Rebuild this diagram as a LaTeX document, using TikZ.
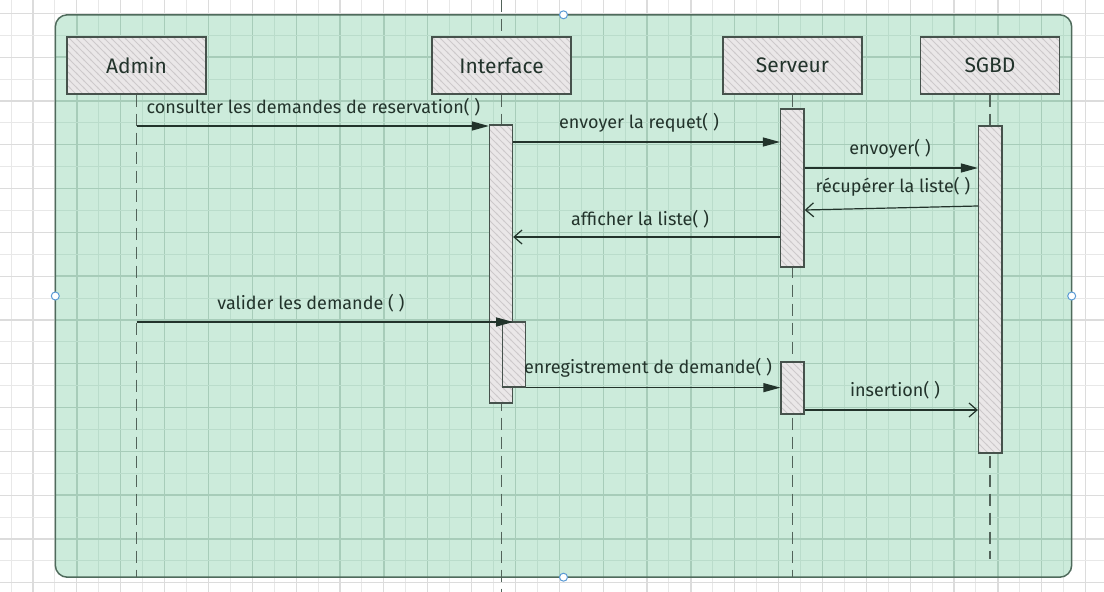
\documentclass[tikz,border=0pt]{standalone}
\usepackage{fontspec}
\newfontfamily\lab{Fira Sans}
\usetikzlibrary{arrows.meta,patterns.meta}

\definecolor{gridout}{HTML}{E8E8E8}
\definecolor{gridoutdark}{HTML}{DCDCDC}
\definecolor{frameFill}{HTML}{CCEBDB}
\definecolor{gridin}{HTML}{BADCCB}
\definecolor{gridindark}{HTML}{A7CCB9}
\definecolor{frameLine}{HTML}{4F6B5C}
\definecolor{ink}{HTML}{22332B}
\definecolor{boxLine}{HTML}{46524C}
\definecolor{lifeCol}{HTML}{52635A}
\definecolor{boxFill}{HTML}{EAE7E8}
\definecolor{hatchCol}{HTML}{CDC9CB}
\definecolor{handleCol}{HTML}{5B9BD5}

% diagonal hatching used inside participant and activation boxes
\tikzdeclarepattern{
  name=diaghatch,
  type=uncolored,
  bounding box={(-1pt,-1pt) and (8pt,8pt)},
  tile size={(7pt,7pt)},
  code={\draw[line width=.8pt] (-1pt,8pt) -- (8pt,-1pt);}
}

\begin{document}
\begin{tikzpicture}[x=1pt,y=-1pt,
  gridminor/.style={draw=gridout,line width=1pt},
  gridmajor/.style={draw=gridoutdark,line width=1.2pt},
  gridminorin/.style={draw=gridin,line width=1pt},
  gridmajorin/.style={draw=gridindark,line width=1.3pt},
  framefill/.style={fill=frameFill,inner sep=0pt,rounded corners=12pt},
  frameline/.style={draw=frameLine,line width=1.5pt},
  hatched/.style={draw=boxLine,line width=1.3pt,preaction={fill=boxFill},
    pattern=diaghatch,pattern color=hatchCol},
  participant/.style={hatched,minimum width=139pt,minimum height=57pt,
    inner sep=0pt,text=ink,font=\lab\fontsize{21}{23}\selectfont},
  activation/.style={hatched,inner sep=0pt},
  lifeline/.style={draw=lifeCol,line width=1.5pt,dash pattern=on 12pt off 7pt},
  call/.style={draw=ink,line width=1.3pt,-{Triangle[length=17pt,width=9pt]}},
  ret/.style={draw=ink,line width=1.2pt,-{Straight Barb[length=8pt,width=14pt]}},
  msglabel/.style={anchor=base,inner sep=0pt,text=ink,font=\lab\fontsize{18}{20}\selectfont},
  handle/.style={draw=handleCol,fill=white,line width=1pt}
]
\useasboundingbox (0,0) rectangle (1104,592);
\fill[white] (0,0) rectangle (1104,592);

% sheet grid
\foreach \k in {-1,1,...,49} \draw[gridminor] (33+21.93*\k,0) -- (33+21.93*\k,592);
\foreach \k in {0,2,...,48} \draw[gridmajor] (33+21.93*\k,0) -- (33+21.93*\k,592);
\foreach \k in {-1,1,...,27} \draw[gridminor] (0,13.3+21.9*\k) -- (1104,13.3+21.9*\k);
\foreach \k in {0,2,...,26} \draw[gridmajor] (0,13.3+21.9*\k) -- (1104,13.3+21.9*\k);

% sequence frame
\node[framefill,minimum width=1016pt,minimum height=562pt] (frame) at (563.5,296) {};
\begin{scope}
  \clip[rounded corners=12pt] (frame.north west) rectangle (frame.south east);
  \foreach \k in {-1,1,...,49} \draw[gridminorin] (33+21.93*\k,0) -- (33+21.93*\k,592);
  \foreach \k in {0,2,...,48} \draw[gridmajorin] (33+21.93*\k,0) -- (33+21.93*\k,592);
  \foreach \k in {-1,1,...,27} \draw[gridminorin] (0,13.3+21.9*\k) -- (1104,13.3+21.9*\k);
  \foreach \k in {0,2,...,26} \draw[gridmajorin] (0,13.3+21.9*\k) -- (1104,13.3+21.9*\k);
\end{scope}
\draw[frameline,rounded corners=12pt] (frame.north west) rectangle (frame.south east);

% participants
\node[participant] (admin) at (136.5,65.5) {Admin};
\node[participant] (iface) at (501.5,65.5) {Interface};
\node[participant] (serv)  at (792.5,65.5) {Serveur};
\node[participant] (sgbd)  at (990,65.5)   {SGBD};

% lifelines
\coordinate (ifaceTop) at (501.5,0);
\coordinate (ifaceEnd) at (501.5,592);
\coordinate (adminEnd) at (136.5,577);
\coordinate (servEnd)  at (792.5,577);
\coordinate (sgbdEnd)  at (990,559);
\draw[lifeline] (admin.south) -- (adminEnd);
\draw[lifeline] (ifaceTop) -- (iface.north);
\draw[lifeline] (iface.south) -- (ifaceEnd);
\draw[lifeline] (serv.south) -- (servEnd);
\draw[lifeline] (sgbd.south) -- (sgbdEnd);

% activation bars
\node[activation,minimum width=23pt,minimum height=278pt]  (actI)  at (501,264)     {};
\node[activation,minimum width=23pt,minimum height=65pt]   (actI2) at (514.3,354.5) {};
\node[activation,minimum width=23.5pt,minimum height=158pt](actS1) at (792.3,188)   {};
\node[activation,minimum width=23pt,minimum height=52pt]   (actS2) at (792.5,388)   {};
\node[activation,minimum width=23.5pt,minimum height=327pt](actD)  at (990.3,289.5) {};

% messages
\coordinate (m1) at (136.5,126);
\coordinate (m2) at (0,142);
\coordinate (m3) at (0,168);
\coordinate (m4a) at (0,206);
\coordinate (m4b) at (0,210);
\coordinate (m5) at (0,237);
\coordinate (m6) at (136.5,322);
\coordinate (m8) at (0,410);

\draw[call] (m1) -- (actI.west |- m1);
\draw[call] (actI.east |- m2) -- (actS1.west |- m2);
\draw[call] (actS1.east |- m3) -- (actD.west |- m3);
\draw[ret]  (actD.west |- m4a) -- (actS1.east |- m4b);
\draw[ret]  (actS1.west |- m5) -- (actI.east |- m5);
\draw[call] (m6) -- (actI.east |- m6);
\draw[call] (actI2.south east) -- (actS2.west |- actI2.south east);
\draw[ret]  (actS2.east |- m8) -- (actD.west |- m8);

% message labels
\node[msglabel] (l1) at (313.5,113) {consulter les demandes de reservation( )};
\node[msglabel] (l2) at (639,128)   {envoyer la requet( )};
\node[msglabel] (l3) at (890,154)   {envoyer( )};
\node[msglabel] (l4) at (893,192)   {récupérer la liste( )};
\node[msglabel] (l5) at (640,225)   {afficher la liste( )};
\node[msglabel] (l6) at (311,309)   {valider les demande ( )};
\node[msglabel] (l7) at (648,373)   {enregistrement de demande( )};
\node[msglabel] (l8) at (895,396)   {insertion( )};

% selection handles of the frame
\foreach \a in {north,west,east,south} \draw[handle] (frame.\a) circle (4pt);
\end{tikzpicture}
\end{document}
